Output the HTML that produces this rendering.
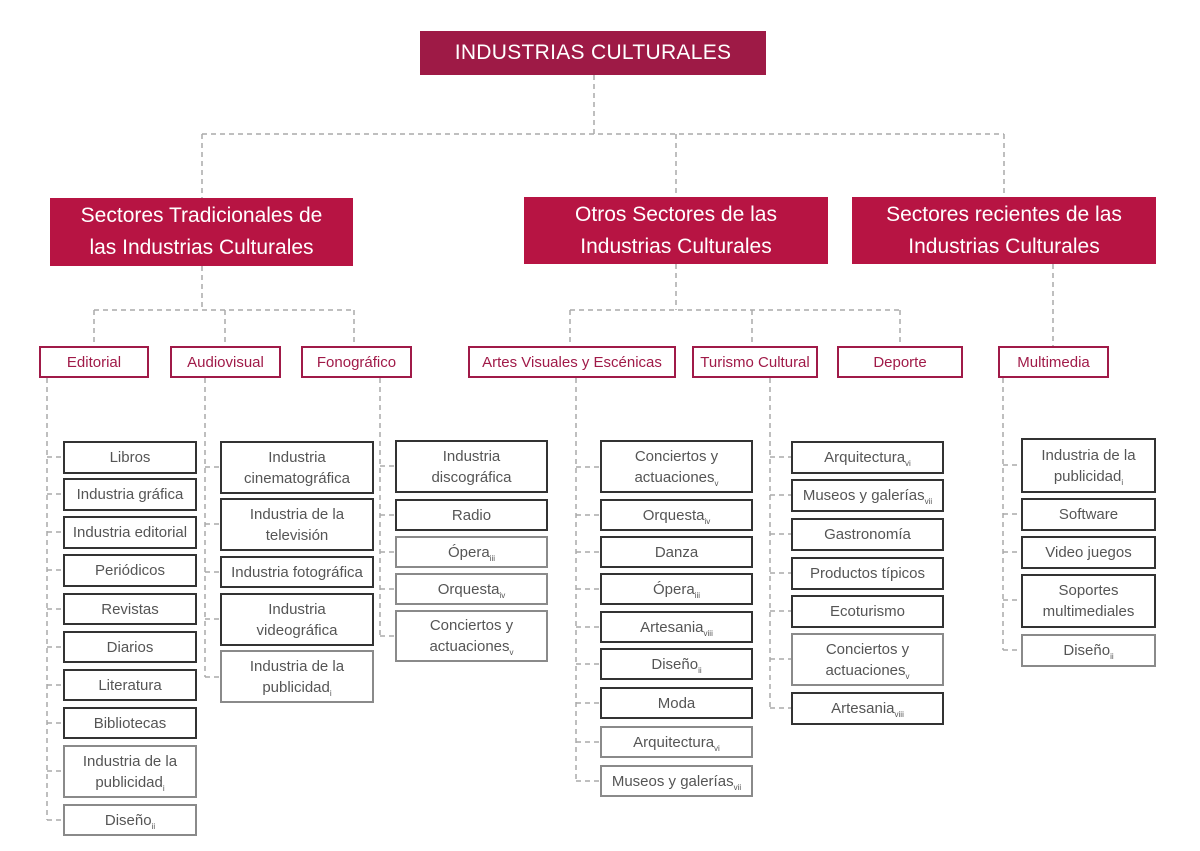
<!DOCTYPE html>
<html><head><meta charset="utf-8"><style>
body{margin:0;background:#fff;}
#c{position:relative;width:1200px;height:851px;overflow:hidden;font-family:"Liberation Sans",sans-serif;}
.b{position:absolute;box-sizing:border-box;border:2px solid #333;display:flex;align-items:center;justify-content:center;text-align:center;color:#555;font-size:15px;line-height:21px;background:#fff;}
.g{border-color:#8a8a8a;}
.m{position:absolute;box-sizing:border-box;border:2px solid #a01a48;display:flex;align-items:center;justify-content:center;color:#a01a48;font-size:15px;background:#fff;}
.s{position:absolute;box-sizing:border-box;background:#b71443;color:#fff;display:flex;align-items:center;justify-content:center;text-align:center;font-size:21px;line-height:32px;}
sub{font-size:8px;vertical-align:-4px;line-height:0;}
svg{position:absolute;left:0;top:0;}
</style></head><body><div id="c">
<svg width="1200" height="851"><g stroke="#aaa" stroke-width="1.5" stroke-dasharray="5,4" fill="none">
<path d="M594 75V134M202 134H1004M202 134V198M676 134V197M1004 134V197"/>
<path d="M202 266V310M94 310H354M94 310V346M225 310V346M354 310V346"/>
<path d="M676 264V310M570 310H900M570 310V346M752 310V346M900 310V346"/>
<path d="M1053 264V346"/>
<path d="M47 378V820M47 457H63M47 494H63M47 532H63M47 570H63M47 609H63M47 647H63M47 685H63M47 723H63M47 771H63M47 820H63"/>
<path d="M205 378V677M205 467H220M205 524H220M205 572H220M205 619H220M205 677H220"/>
<path d="M380 378V636M380 466H395M380 515H395M380 552H395M380 589H395M380 636H395"/>
<path d="M576 378V781M576 467H600M576 515H600M576 552H600M576 589H600M576 627H600M576 664H600M576 703H600M576 742H600M576 781H600"/>
<path d="M770 378V708M770 457H791M770 495H791M770 534H791M770 573H791M770 611H791M770 659H791M770 708H791"/>
<path d="M1003 378V650M1003 465H1021M1003 514H1021M1003 552H1021M1003 600H1021M1003 650H1021"/>
</g></svg>
<div class="s" style="left:420px;top:31px;width:346px;height:44px;background:#9e1a46;font-size:21px;letter-spacing:0.3px">INDUSTRIAS CULTURALES</div>
<div class="s" style="left:50px;top:198px;width:303px;height:68px"><span>Sectores Tradicionales de<br>las Industrias Culturales</span></div>
<div class="s" style="left:524px;top:197px;width:304px;height:67px"><span>Otros Sectores de las<br>Industrias Culturales</span></div>
<div class="s" style="left:852px;top:197px;width:304px;height:67px"><span>Sectores recientes de las<br>Industrias Culturales</span></div>
<div class="m" style="left:39px;top:346px;width:110px;height:32px">Editorial</div>
<div class="m" style="left:170px;top:346px;width:111px;height:32px">Audiovisual</div>
<div class="m" style="left:301px;top:346px;width:111px;height:32px">Fonográfico</div>
<div class="m" style="left:468px;top:346px;width:208px;height:32px">Artes Visuales y Escénicas</div>
<div class="m" style="left:692px;top:346px;width:126px;height:32px">Turismo Cultural</div>
<div class="m" style="left:837px;top:346px;width:126px;height:32px">Deporte</div>
<div class="m" style="left:998px;top:346px;width:111px;height:32px">Multimedia</div>

<div class="b" style="left:63px;top:441px;width:134px;height:33px"><span>Libros</span></div>
<div class="b" style="left:63px;top:478px;width:134px;height:33px"><span>Industria gráfica</span></div>
<div class="b" style="left:63px;top:516px;width:134px;height:33px"><span>Industria editorial</span></div>
<div class="b" style="left:63px;top:554px;width:134px;height:33px"><span>Periódicos</span></div>
<div class="b" style="left:63px;top:593px;width:134px;height:32px"><span>Revistas</span></div>
<div class="b" style="left:63px;top:631px;width:134px;height:32px"><span>Diarios</span></div>
<div class="b" style="left:63px;top:669px;width:134px;height:32px"><span>Literatura</span></div>
<div class="b" style="left:63px;top:707px;width:134px;height:32px"><span>Bibliotecas</span></div>
<div class="b g" style="left:63px;top:745px;width:134px;height:53px"><span>Industria de la<br>publicidad<sub>i</sub></span></div>
<div class="b g" style="left:63px;top:804px;width:134px;height:32px"><span>Diseño<sub>ii</sub></span></div>

<div class="b" style="left:220px;top:441px;width:154px;height:53px"><span>Industria<br>cinematográfica</span></div>
<div class="b" style="left:220px;top:498px;width:154px;height:53px"><span>Industria de la<br>televisión</span></div>
<div class="b" style="left:220px;top:556px;width:154px;height:32px"><span>Industria fotográfica</span></div>
<div class="b" style="left:220px;top:593px;width:154px;height:53px"><span>Industria<br>videográfica</span></div>
<div class="b g" style="left:220px;top:650px;width:154px;height:53px"><span>Industria de la<br>publicidad<sub>i</sub></span></div>

<div class="b" style="left:395px;top:440px;width:153px;height:53px"><span>Industria<br>discográfica</span></div>
<div class="b" style="left:395px;top:499px;width:153px;height:32px"><span>Radio</span></div>
<div class="b g" style="left:395px;top:536px;width:153px;height:32px"><span>Ópera<sub>iii</sub></span></div>
<div class="b g" style="left:395px;top:573px;width:153px;height:32px"><span>Orquesta<sub>iv</sub></span></div>
<div class="b g" style="left:395px;top:610px;width:153px;height:52px"><span>Conciertos y<br>actuaciones<sub>v</sub></span></div>

<div class="b" style="left:600px;top:440px;width:153px;height:53px"><span>Conciertos y<br>actuaciones<sub>v</sub></span></div>
<div class="b" style="left:600px;top:499px;width:153px;height:32px"><span>Orquesta<sub>iv</sub></span></div>
<div class="b" style="left:600px;top:536px;width:153px;height:32px"><span>Danza</span></div>
<div class="b" style="left:600px;top:573px;width:153px;height:32px"><span>Ópera<sub>iii</sub></span></div>
<div class="b" style="left:600px;top:611px;width:153px;height:32px"><span>Artesania<sub>viii</sub></span></div>
<div class="b" style="left:600px;top:648px;width:153px;height:32px"><span>Diseño<sub>ii</sub></span></div>
<div class="b" style="left:600px;top:687px;width:153px;height:32px"><span>Moda</span></div>
<div class="b g" style="left:600px;top:726px;width:153px;height:32px"><span>Arquitectura<sub>vi</sub></span></div>
<div class="b g" style="left:600px;top:765px;width:153px;height:32px"><span>Museos y galerías<sub>vii</sub></span></div>

<div class="b" style="left:791px;top:441px;width:153px;height:33px"><span>Arquitectura<sub>vi</sub></span></div>
<div class="b" style="left:791px;top:479px;width:153px;height:33px"><span>Museos y galerías<sub>vii</sub></span></div>
<div class="b" style="left:791px;top:518px;width:153px;height:33px"><span>Gastronomía</span></div>
<div class="b" style="left:791px;top:557px;width:153px;height:33px"><span>Productos típicos</span></div>
<div class="b" style="left:791px;top:595px;width:153px;height:33px"><span>Ecoturismo</span></div>
<div class="b g" style="left:791px;top:633px;width:153px;height:53px"><span>Conciertos y<br>actuaciones<sub>v</sub></span></div>
<div class="b" style="left:791px;top:692px;width:153px;height:33px"><span>Artesania<sub>viii</sub></span></div>

<div class="b" style="left:1021px;top:438px;width:135px;height:55px"><span>Industria de la<br>publicidad<sub>i</sub></span></div>
<div class="b" style="left:1021px;top:498px;width:135px;height:33px"><span>Software</span></div>
<div class="b" style="left:1021px;top:536px;width:135px;height:33px"><span>Video juegos</span></div>
<div class="b" style="left:1021px;top:574px;width:135px;height:54px"><span>Soportes<br>multimediales</span></div>
<div class="b g" style="left:1021px;top:634px;width:135px;height:33px"><span>Diseño<sub>ii</sub></span></div>
</div></body></html>
